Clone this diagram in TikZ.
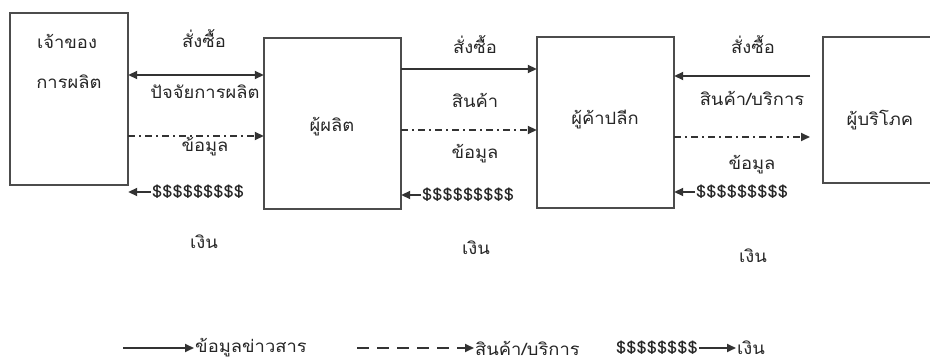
\documentclass[tikz,border=0pt]{standalone}
\usepackage{fontspec}
\setmainfont{Loma}[Script=Thai,FakeStretch=1.08]
\usetikzlibrary{arrows.meta}
\begin{document}
\begin{tikzpicture}[x=1pt,y=-1pt,
  box/.style={draw=black!70,line width=1.5pt,inner sep=0pt},
  area/.style={draw=none,inner sep=0pt},
  lbl/.style={inner sep=1pt,font=\fontsize{17}{19}\selectfont,text=black!85},
  conn/.style={line width=1.8pt,draw=black!80,-{Triangle[length=9pt,width=8pt]}},
  dd/.style={conn,dash pattern=on 7pt off 4pt on 2pt off 4pt},
  leg/.style={conn,dash pattern=on 12pt off 8pt}]
\useasboundingbox (0,0) rectangle (930,363);
% boxes
\draw[box] (10,13) rectangle (128,185);
\node[area,minimum width=118pt,minimum height=172pt] (b1) at (69,99) {};
\draw[box] (264,38) rectangle (401,209);
\node[area,minimum width=137pt,minimum height=171pt] (b2) at (332.5,123.5) {};
\draw[box] (537,37) rectangle (674,208);
\node[area,minimum width=137pt,minimum height=171pt] (b3) at (605.5,122.5) {};
\draw[box] (931,37) -- (823,37) -- (823,183) -- (931,183);
\node[area,minimum width=108pt,minimum height=146pt] (b4) at (877,110) {};
% box texts
\node[lbl] (t1a) at (67,41) {เจ้าของ};
\node[lbl] (t1b) at (69,82) {การผลิต};
\node[lbl] (t2) at (332,127) {ผู้ผลิต};
\node[lbl] (t3) at (605,120) {ผู้ค้าปลีก};
\node[lbl] (t4) at (880,120) {ผู้บริโภค};
% link 1-2
\node[lbl] (l1a) at (204,39) {สั่งซื้อ};
\node[lbl] (l1b) at (205,92) {ปัจจัยการผลิต};
\node[lbl] (l1c) at (205,147) {ข้อมูล};
\node[lbl,anchor=west] (m1) at (151,192) {\$\$\$\$\$\$\$\$\$};
\node[lbl] (l1d) at (204,242) {เงิน};
\draw[conn,{Triangle[length=9pt,width=8pt]}-{Triangle[length=9pt,width=8pt]}] (b1.east |- 0,75) -- (b2.west |- 0,75);
\draw[dd] (b1.east |- 0,136) -- (b2.west |- 0,136);
\draw[conn] (m1.west) -- (b1.east |- m1.west);
% link 2-3
\node[lbl] (l2a) at (475,45) {สั่งซื้อ};
\node[lbl] (l2b) at (475,100) {สินค้า};
\node[lbl] (l2c) at (475,154) {ข้อมูล};
\node[lbl,anchor=west] (m2) at (421,195) {\$\$\$\$\$\$\$\$\$};
\node[lbl] (l2d) at (476,248) {เงิน};
\draw[conn] (b2.east |- 0,69) -- (b3.west |- 0,69);
\draw[dd] (b2.east |- 0,130) -- (b3.west |- 0,130);
\draw[conn] (m2.west) -- (b2.east |- m2.west);
% link 3-4
\coordinate (c4a) at (810,76);
\coordinate (c4b) at (810,137);
\node[lbl] (l3a) at (753,45) {สั่งซื้อ};
\node[lbl] (l3b) at (752,98) {สินค้า/บริการ};
\node[lbl] (l3c) at (752,165) {ข้อมูล};
\node[lbl,anchor=west] (m3) at (695,192) {\$\$\$\$\$\$\$\$\$};
\node[lbl] (l3d) at (753,256) {เงิน};
\draw[conn] (c4a) -- (b3.east |- c4a);
\draw[dd] (b3.east |- c4b) -- (c4b);
\draw[conn] (m3.west) -- (b3.east |- m3.west);
% legend
\coordinate (g1) at (123,348);
\node[lbl,anchor=west] (g1t) at (194,348) {ข้อมูลข่าวสาร};
\draw[conn] (g1) -- (g1t.west);
\coordinate (g2) at (357,348);
\node[lbl,anchor=west] (g2t) at (474,348) {สินค้า/บริการ};
\draw[leg] (g2) -- (g2t.west);
\node[lbl,anchor=west] (g3s) at (615,348) {\$\$\$\$\$\$\$\$};
\node[lbl,anchor=west] (g3t) at (736,348) {เงิน};
\draw[conn] (g3s.east) -- (g3t.west);
\end{tikzpicture}
\end{document}
